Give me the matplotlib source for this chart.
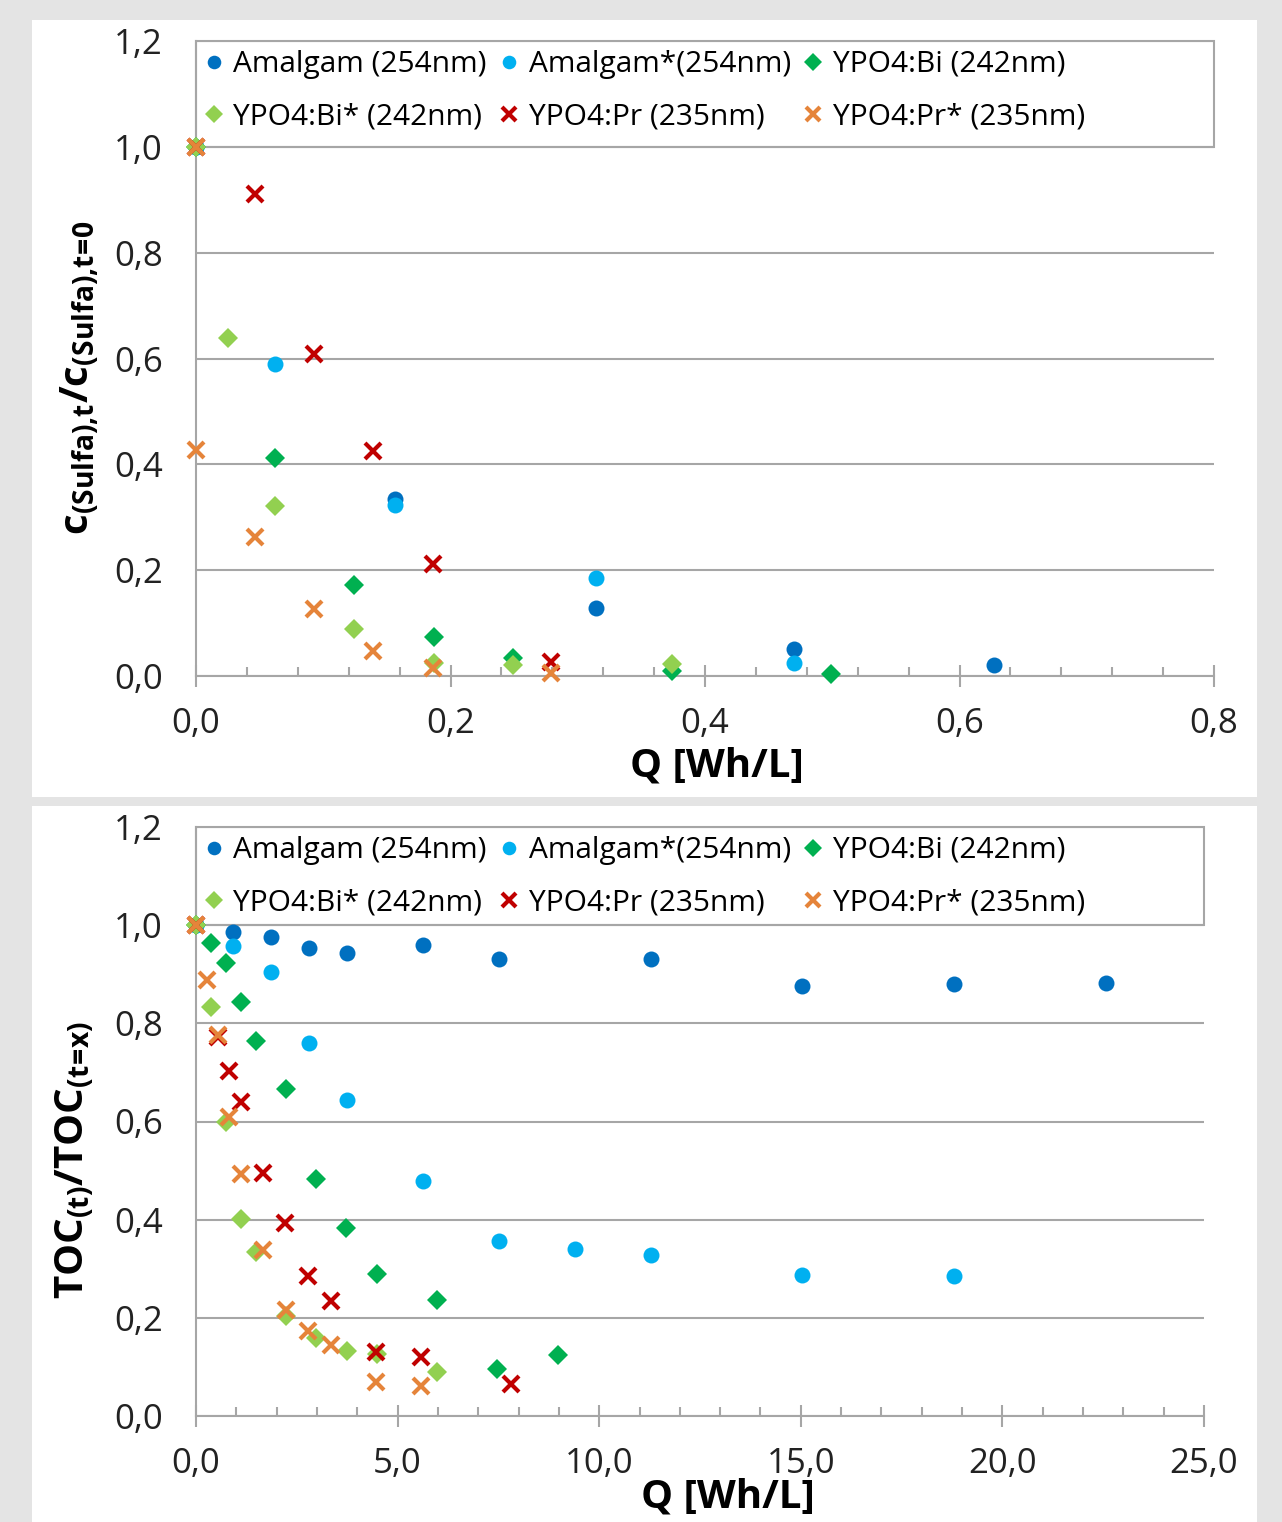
import matplotlib.pyplot as plt
from matplotlib.patches import Rectangle
from matplotlib.ticker import MultipleLocator

plt.rcParams['font.family'] = ['Open Sans', 'DejaVu Sans']
plt.rcParams['mathtext.fontset'] = 'custom'
plt.rcParams['mathtext.rm'] = 'Open Sans'
plt.rcParams['mathtext.bf'] = 'Open Sans:bold'
plt.rcParams['mathtext.it'] = 'Open Sans:italic'

# series names / colours / markers
names = ['Amalgam (254nm)', 'Amalgam*(254nm)', 'YPO4:Bi (242nm)',
         'YPO4:Bi* (242nm)', 'YPO4:Pr (235nm)', 'YPO4:Pr* (235nm)']
colors = ['#0070C0', '#00B0F0', '#00B050', '#92D050', '#C00000', '#E5843A']
markers = ['o', 'o', 'D', 'D', 'x', 'x']

# top chart: sulfa concentration vs Q
q1_amalgam = [0.0, 0.156, 0.314, 0.470, 0.627]
c_amalgam = [1.0, 0.335, 0.129, 0.051, 0.021]
q1_amalgam_s = [0.0, 0.062, 0.156, 0.314, 0.470]
c_amalgam_s = [1.0, 0.590, 0.323, 0.185, 0.025]
q1_bi = [0.0, 0.062, 0.124, 0.187, 0.249, 0.374, 0.499]
c_bi = [1.0, 0.412, 0.172, 0.074, 0.034, 0.009, 0.004]
q1_bi_s = [0.0, 0.025, 0.062, 0.124, 0.187, 0.249, 0.374]
c_bi_s = [1.0, 0.639, 0.321, 0.089, 0.025, 0.021, 0.023]
q1_pr = [0.0, 0.046, 0.093, 0.139, 0.186, 0.279]
c_pr = [1.0, 0.911, 0.609, 0.425, 0.212, 0.026]
q1_pr_s = [0.0, 0.0, 0.046, 0.093, 0.139, 0.186, 0.279]
c_pr_s = [1.0, 0.427, 0.263, 0.127, 0.047, 0.015, 0.006]

# bottom chart: TOC vs Q
q2_amalgam = [0.0, 0.92, 1.86, 2.80, 3.75, 5.63, 7.51, 11.28, 15.03, 18.80, 22.57]
t_amalgam = [1.0, 0.986, 0.976, 0.953, 0.943, 0.959, 0.931, 0.931, 0.876, 0.880, 0.882]
q2_amalgam_s = [0.0, 0.92, 1.86, 2.80, 3.75, 5.63, 7.51, 9.40, 11.28, 15.03, 18.80]
t_amalgam_s = [1.0, 0.957, 0.905, 0.759, 0.644, 0.479, 0.356, 0.340, 0.328, 0.287, 0.285]
q2_bi = [0.0, 0.37, 0.74, 1.12, 1.49, 2.23, 2.98, 3.72, 4.49, 5.98, 7.47, 8.98]
t_bi = [1.0, 0.963, 0.923, 0.843, 0.764, 0.666, 0.483, 0.383, 0.289, 0.236, 0.096, 0.124]
q2_bi_s = [0.0, 0.37, 0.74, 1.12, 1.49, 2.23, 2.98, 3.74, 4.49, 5.98]
t_bi_s = [1.0, 0.833, 0.599, 0.401, 0.334, 0.204, 0.159, 0.132, 0.126, 0.090]
q2_pr = [0.0, 0.55, 0.82, 1.12, 1.66, 2.21, 2.78, 3.35, 4.46, 5.58, 7.81]
t_pr = [1.0, 0.772, 0.703, 0.640, 0.495, 0.393, 0.285, 0.234, 0.130, 0.120, 0.065]
q2_pr_s = [0.0, 0.27, 0.55, 0.82, 1.12, 1.66, 2.23, 2.78, 3.35, 4.46, 5.58]
t_pr_s = [1.0, 0.888, 0.776, 0.609, 0.493, 0.338, 0.216, 0.173, 0.145, 0.069, 0.061]

y_ticks = [0.0, 0.2, 0.4, 0.6, 0.8, 1.0, 1.2]
y_labels = ['0,0', '0,2', '0,4', '0,6', '0,8', '1,0', '1,2']
x1_ticks = [0.0, 0.2, 0.4, 0.6, 0.8]
x1_labels = ['0,0', '0,2', '0,4', '0,6', '0,8']
x2_ticks = [0, 5, 10, 15, 20, 25]
x2_labels = ['0,0', '5,0', '10,0', '15,0', '20,0', '25,0']

top_series = [(q1_amalgam, c_amalgam), (q1_amalgam_s, c_amalgam_s), (q1_bi, c_bi),
              (q1_bi_s, c_bi_s), (q1_pr, c_pr), (q1_pr_s, c_pr_s)]
bottom_series = [(q2_amalgam, t_amalgam), (q2_amalgam_s, t_amalgam_s), (q2_bi, t_bi),
                 (q2_bi_s, t_bi_s), (q2_pr, t_pr), (q2_pr_s, t_pr_s)]

gray = '#A6A6A6'
W, H = 1282, 1522
fig = plt.figure(figsize=(W / 100, H / 100), dpi=100, facecolor='#E4E4E4')

# white panels behind each chart
fig.patches.append(Rectangle((32 / W, 1 - 797 / H), (1257 - 32) / W, (797 - 20) / H,
                             transform=fig.transFigure, facecolor='white', zorder=-5))
fig.patches.append(Rectangle((32 / W, 0), (1257 - 32) / W, 1 - 806 / H,
                             transform=fig.transFigure, facecolor='white', zorder=-5))


def draw(ax, series, xmax, xticks, xlabels, minor, ylabel, xlab_pos, ylab_pos):
    ax.set_facecolor('none')
    handles = []
    for (x, y), nm, col, mk in zip(series, names, colors, markers):
        if mk == 'x':
            h, = ax.plot(x, y, ls='none', marker='x', ms=11.5, mew=3, color=col,
                         label=nm, clip_on=False, zorder=3)
        elif mk == 'D':
            h, = ax.plot(x, y, ls='none', marker='D', ms=10.5, mew=0, color=col,
                         label=nm, clip_on=False, zorder=3)
        else:
            h, = ax.plot(x, y, ls='none', marker='o', ms=11.5, mew=0, color=col,
                         label=nm, clip_on=False, zorder=3)
        handles.append(h)

    ax.set_xlim(0, xmax)
    ax.set_ylim(0, 1.2)
    ax.set_yticks(y_ticks)
    ax.set_yticklabels(y_labels)
    ax.set_xticks(xticks)
    ax.set_xticklabels(xlabels)
    ax.xaxis.set_minor_locator(MultipleLocator(minor))
    ax.tick_params(axis='y', length=0, pad=24, labelsize=25, labelcolor='#222222')
    ax.tick_params(axis='x', which='major', direction='inout', length=16, width=1.5,
                   color=gray, pad=14, labelsize=25, labelcolor='#222222')
    ax.tick_params(axis='x', which='minor', direction='in', length=6.5, width=1.5,
                   color=gray)
    for s in ['top', 'right']:
        ax.spines[s].set_visible(False)
    for s in ['left', 'bottom']:
        ax.spines[s].set_color(gray)
        ax.spines[s].set_linewidth(1.5)
    ax.grid(axis='y', color=gray, lw=1.5)
    ax.set_axisbelow(True)

    # legend frame covers the band between 1.0 and 1.2
    ax.add_patch(Rectangle((0, 1.0), xmax, 0.2, fill=False, edgecolor=gray, lw=1.5,
                           clip_on=False, zorder=1))
    order = [0, 3, 1, 4, 2, 5]
    ax.legend([handles[i] for i in order], [names[i] for i in order], ncol=3,
              loc='upper left', bbox_to_anchor=(0.0, 1.0), frameon=False,
              fontsize=21.5, handlelength=0.6, handletextpad=0.35, columnspacing=0.45,
              labelspacing=0.8, borderaxespad=0.0, borderpad=0.3, markerscale=0.85)

    ax.set_xlabel('Q [Wh/L]', fontsize=29, fontweight='bold')
    ax.xaxis.set_label_coords(*xlab_pos)
    ax.xaxis.label.set_va('center')
    ax.set_ylabel(ylabel, fontsize=29)
    ax.yaxis.set_label_coords(*ylab_pos)
    ax.yaxis.label.set_va('center')


ax1 = fig.add_axes([196 / W, 1 - 676 / H, (1214 - 196) / W, (676 - 41) / H])
draw(ax1, top_series, 0.8, x1_ticks, x1_labels, 0.04,
     r'$\mathbf{c_{(Sulfa){,}t}/c_{(Sulfa){,}t\!=\!0}}$',
     ((717 - 196) / 1018, (676 - 766) / 635), ((80 - 196) / 1018, (676 - 378) / 635))

ax2 = fig.add_axes([196 / W, 1 - 1416 / H, (1204 - 196) / W, (1416 - 827) / H])
draw(ax2, bottom_series, 25, x2_ticks, x2_labels, 1.0,
     r'$\mathbf{TOC_{(t)}/TOC_{(t\!=\!x)}}$',
     ((728 - 196) / 1008, (1416 - 1497) / 589), ((75 - 196) / 1008, (1416 - 1160) / 589))

fig.savefig('out.png', dpi=100, facecolor=fig.get_facecolor())
